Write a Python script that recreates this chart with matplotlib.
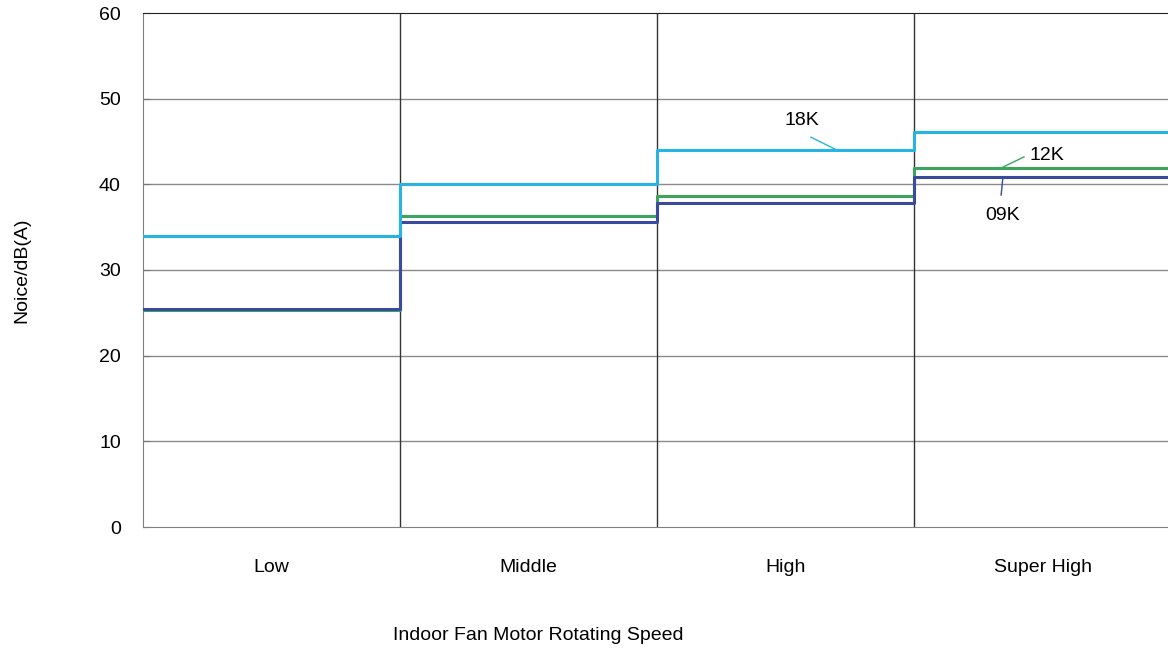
import matplotlib.pyplot as plt

plt.rcParams['font.family'] = ['Liberation Sans', 'DejaVu Sans']

# fan speed categories and noise levels per model
speeds = ['Low', 'Middle', 'High', 'Super High']
noise_09k = [25.5, 35.6, 37.8, 40.8]
noise_12k = [25.3, 36.3, 38.6, 41.95]
noise_18k = [34.0, 40.0, 44.0, 46.1]
y_ticks = [0, 10, 20, 30, 40, 50, 60]

# series labels: text position, leader start, leader end (data coords)
labels = [
    ('18K', (2.564, 47.5), (2.599, 45.5), (2.700, 44.0), '#27B4E4'),
    ('12K', (3.518, 43.4), (3.428, 43.2), (3.342, 41.95), '#3BA55C'),
    ('09K', (3.346, 36.4), (3.339, 38.75), (3.346, 40.8), '#3A4A9C'),
]

FS = 14

fig = plt.figure(figsize=(11.68, 6.55), dpi=100)
ax = fig.add_axes([143 / 1168, 128 / 655, 1028 / 1168, 514 / 655])

edges = list(range(len(speeds) + 1))
series = [
    (noise_12k, '#3BA55C'),
    (noise_09k, '#3A4A9C'),
    (noise_18k, '#27B4E4'),
]
for vals, col in series:
    ax.step(edges, vals + [vals[-1]], where='post', color=col, linewidth=2.2, zorder=3)

ax.set_xlim(0, len(speeds))
ax.set_ylim(0, 60)

# grid
for yv in y_ticks[1:-1]:
    ax.axhline(yv, color='#8a8a8a', linewidth=1.0, zorder=1)
for xv in edges[1:-1]:
    ax.axvline(xv, color='#333333', linewidth=1.0, zorder=1)

ax.set_yticks(y_ticks)
ax.tick_params(axis='y', direction='in', length=5, color='#777777', pad=16, labelsize=FS)
ax.set_xticks([i + 0.5 for i in range(len(speeds))])
ax.set_xticklabels(speeds)
ax.tick_params(axis='x', length=0, pad=23, labelsize=FS)

ax.spines['left'].set_color('#808080')
ax.spines['bottom'].set_color('#808080')
ax.spines['top'].set_color('#222222')
ax.spines['right'].set_visible(False)

fig.text(538 / 1168, 1 - 635 / 655, 'Indoor Fan Motor Rotating Speed', fontsize=FS,
         ha='center', va='center')
fig.text(22 / 1168, 1 - 270 / 655, 'Noice/dB(A)', fontsize=FS, rotation=90,
         ha='center', va='center')

for name, tpos, p0, p1, col in labels:
    ax.plot([p0[0], p1[0]], [p0[1], p1[1]], color=col, linewidth=1.0, zorder=4)
    ax.text(tpos[0], tpos[1], name, fontsize=FS, ha='center', va='center')

fig.savefig('out.png', dpi=100)
